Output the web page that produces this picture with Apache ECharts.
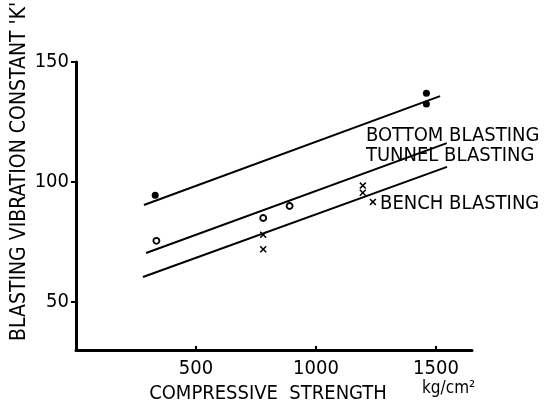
<!DOCTYPE html>
<html>
<head>
<meta charset="utf-8">
<script src="https://cdn.jsdelivr.net/npm/echarts@6/dist/echarts.min.js"></script>
<style>html,body{margin:0;padding:0;background:#fff}#c{width:557px;height:412px}</style>
</head>
<body>
<div id="c"></div>
<script>
// ---- data ----
const xTicks = [500, 1000, 1500];
const yTicks = [50, 100, 150];

const bottomLineX = [283, 1517];
const bottomLineY = [90.4, 135.8];
const tunnelLineX = [292, 1545];
const tunnelLineY = [70.4, 116.2];
const benchLineX  = [279, 1546];
const benchLineY  = [60.4, 106.3];

const bottomX = [330, 1460, 1460];
const bottomY = [94.5, 137, 132.5];
const tunnelX = [335, 780, 890];
const tunnelY = [75.5, 85, 90];
const benchX  = [780, 780, 1195, 1195, 1237];
const benchY  = [72, 78, 98.5, 95.5, 91.7];

const labelNames = ['BOTTOM BLASTING', 'TUNNEL BLASTING', 'BENCH BLASTING'];
const labelX = [1208, 1208, 1267];
const labelY = [119.3, 111.0, 91.0];

const FONT = '"DejaVu Sans Condensed", "Liberation Sans Narrow", sans-serif';
const pairs = (xs, ys) => xs.map((x, i) => [x, ys[i]]);
const crossPath = 'path://M0,1.5L1.5,0L5,3.5L8.5,0L10,1.5L6.5,5L10,8.5L8.5,10L5,6.5L1.5,10L0,8.5L3.5,5Z';

const lineSeries = (xs, ys) => ({
  type: 'line', data: pairs(xs, ys), symbol: 'none', silent: true,
  lineStyle: { color: '#000', width: 2 }
});

const chart = echarts.init(document.getElementById('c'));
chart.setOption({
  animation: false,
  backgroundColor: '#fff',
  grid: { left: 76, right: 85, top: 62, bottom: 62, containLabel: false },
  xAxis: {
    type: 'value', min: 0, max: 1650,
    name: 'COMPRESSIVE  STRENGTH', nameLocation: 'middle', nameGap: 30,
    nameTextStyle: { fontFamily: FONT, fontSize: 20, color: '#000', padding: [0, 12, 0, 0] },
    axisLine: { lineStyle: { color: '#000', width: 3 } },
    axisTick: { inside: true, length: 4, lineStyle: { color: '#000', width: 2 }, customValues: xTicks },
    axisLabel: { fontFamily: FONT, fontSize: 20, color: '#000', margin: 9, customValues: xTicks,
                 formatter: v => String(v) },
    splitLine: { show: false }
  },
  yAxis: {
    type: 'value', min: 30, max: 150,
    axisLine: { show: true, lineStyle: { color: '#000', width: 3 } },
    axisTick: { show: true, length: 5, lineStyle: { color: '#000', width: 2 }, customValues: yTicks },
    axisLabel: { fontFamily: FONT, fontSize: 20, color: '#000', margin: 7, customValues: yTicks,
                 formatter: v => String(v) },
    splitLine: { show: false }
  },
  graphic: [
    { type: 'text', x: 20, y: 341, rotation: Math.PI / 2,
      style: { text: "BLASTING VIBRATION CONSTANT 'K'", font: '21px ' + FONT, fill: '#000',
               textAlign: 'left', textVerticalAlign: 'middle' } },
    { type: 'text', x: 422, y: 389,
      style: { text: 'kg/cm²', font: '17px ' + FONT, fill: '#000',
               textAlign: 'left', textVerticalAlign: 'middle' } }
  ],
  series: [
    lineSeries(bottomLineX, bottomLineY),
    lineSeries(tunnelLineX, tunnelLineY),
    lineSeries(benchLineX, benchLineY),
    { type: 'scatter', data: pairs(bottomX, bottomY), symbol: 'circle', symbolSize: 7,
      itemStyle: { color: '#000', opacity: 1 } },
    { type: 'scatter', data: pairs(tunnelX, tunnelY), symbol: 'circle', symbolSize: 6,
      itemStyle: { color: '#fff', borderColor: '#000', borderWidth: 1.8, opacity: 1 } },
    { type: 'scatter', data: pairs(benchX, benchY), symbol: crossPath, symbolSize: 7,
      itemStyle: { color: '#000', opacity: 1 } },
    { type: 'scatter', data: pairs(labelX, labelY).map((p, i) => ({ value: p, name: labelNames[i] })),
      symbolSize: 0, silent: true,
      label: { show: true, position: 'right', distance: 0, formatter: p => p.name,
               fontFamily: FONT, fontSize: 20, color: '#000', opacity: 1 } }
  ]
});
</script>
</body>
</html>
